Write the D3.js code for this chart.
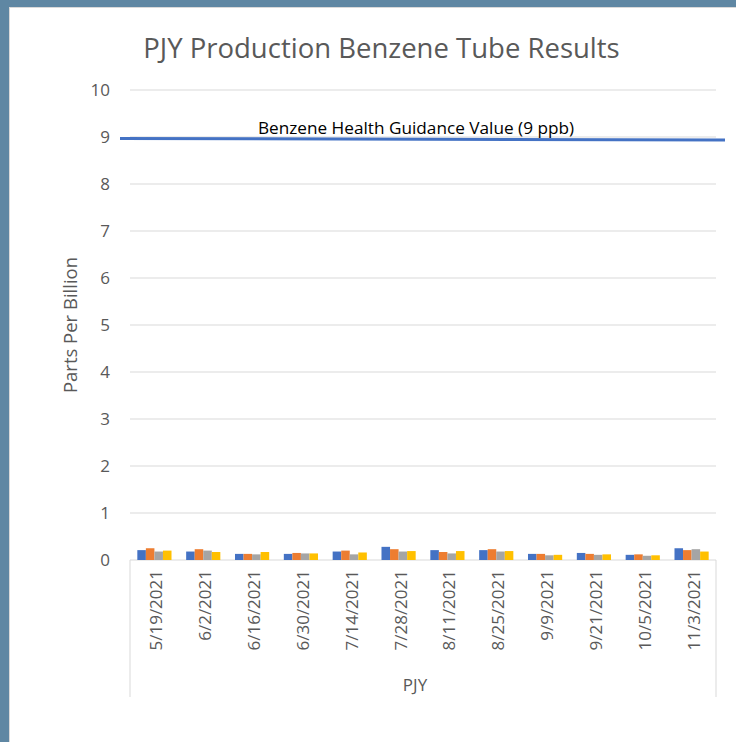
<!DOCTYPE html>
<html>
<head>
<meta charset="utf-8">
<script src="https://cdn.jsdelivr.net/npm/d3@7"></script>
<style>
  body { margin: 0; background: #5f87a3; }
  svg { display: block; }
</style>
</head>
<body>
<script>
var dates = ["5/19/2021", "6/2/2021", "6/16/2021", "6/30/2021", "7/14/2021", "7/28/2021",
             "8/11/2021", "8/25/2021", "9/9/2021", "9/21/2021", "10/5/2021", "11/3/2021"];
var tube1 = [0.21, 0.18, 0.13, 0.13, 0.18, 0.28, 0.21, 0.21, 0.13, 0.15, 0.11, 0.25];
var tube2 = [0.25, 0.23, 0.13, 0.15, 0.20, 0.23, 0.17, 0.23, 0.13, 0.13, 0.12, 0.21];
var tube3 = [0.18, 0.20, 0.12, 0.14, 0.12, 0.18, 0.14, 0.18, 0.10, 0.11, 0.09, 0.23];
var tube4 = [0.20, 0.17, 0.17, 0.14, 0.16, 0.19, 0.19, 0.19, 0.11, 0.12, 0.10, 0.18];
var seriesNames = ["Tube 1", "Tube 2", "Tube 3", "Tube 4"];
var colors = ["#4472c4", "#ed7d31", "#a5a5a5", "#ffc000"];
var yTicks = [0, 1, 2, 3, 4, 5, 6, 7, 8, 9, 10];
var guidanceValue = 9;
var guidanceLabel = "Benzene Health Guidance Value (9 ppb)";

var series = [tube1, tube2, tube3, tube4];
var font = "'Open Sans', sans-serif";

var W = 736, H = 742;
var margin = {top: 90, right: 20, bottom: 182, left: 130},
    width = 716 - margin.left,
    height = 560 - margin.top;

var svg = d3.select("body").append("svg")
    .attr("width", W)
    .attr("height", H);

// white chart area inside the frame
svg.append("rect")
    .attr("x", 9).attr("y", 7)
    .attr("width", W - 9).attr("height", H - 7)
    .attr("fill", "#d9d9d9");
svg.append("rect")
    .attr("x", 10).attr("y", 8)
    .attr("width", W - 10).attr("height", H - 8)
    .attr("fill", "#ffffff");

var g = svg.append("g")
    .attr("transform", "translate(" + margin.left + "," + margin.top + ")");

var x = d3.scaleBand().domain(dates).range([0, width]).paddingInner(0.3).paddingOuter(0.15);
var x1 = d3.scaleBand().domain(seriesNames).range([0, x.bandwidth()]);
var y = d3.scaleLinear().domain([0, 10]).range([height, 0]);

// gridlines
g.append("g")
    .selectAll("line")
    .data(yTicks)
    .join("line")
    .attr("x1", 0).attr("x2", width)
    .attr("y1", function(d) { return y(d); })
    .attr("y2", function(d) { return y(d); })
    .attr("stroke", "#d9d9d9")
    .attr("stroke-width", 1);

// y tick labels
g.append("g")
    .selectAll("text")
    .data(yTicks)
    .join("text")
    .attr("x", -20)
    .attr("y", function(d) { return y(d); })
    .attr("dy", "0.35em")
    .attr("text-anchor", "end")
    .attr("font-family", font)
    .attr("font-size", 17)
    .attr("fill", "#595959")
    .text(function(d) { return d; });

// bars
var groups = g.append("g")
    .selectAll("g")
    .data(dates)
    .join("g")
    .attr("transform", function(d) { return "translate(" + x(d) + ",0)"; });

groups.selectAll("rect")
    .data(function(d, i) { return series.map(function(s, k) { return {k: k, v: s[i]}; }); })
    .join("rect")
    .attr("x", function(d) { return x1(seriesNames[d.k]); })
    .attr("width", x1.bandwidth())
    .attr("y", function(d) { return y(d.v); })
    .attr("height", function(d) { return y(0) - y(d.v); })
    .attr("fill", function(d) { return colors[d.k]; });

// category box lines
g.append("line")
    .attr("x1", 0).attr("x2", 0)
    .attr("y1", height).attr("y2", height + 137)
    .attr("stroke", "#d9d9d9");
g.append("line")
    .attr("x1", width).attr("x2", width)
    .attr("y1", height).attr("y2", height + 137)
    .attr("stroke", "#d9d9d9");

// x labels
g.append("g")
    .selectAll("text")
    .data(dates)
    .join("text")
    .attr("transform", function(d) {
        return "translate(" + (x(d) + x.bandwidth() / 2 + 2) + "," + (height + 10) + ") rotate(-90)";
    })
    .attr("dy", "0.35em")
    .attr("text-anchor", "end")
    .attr("font-family", font)
    .attr("font-size", 17)
    .attr("fill", "#595959")
    .text(function(d) { return d; });

g.append("text")
    .attr("x", width / 2 - 8)
    .attr("y", height + 131)
    .attr("text-anchor", "middle")
    .attr("font-family", font)
    .attr("font-size", 17)
    .attr("fill", "#595959")
    .text("PJY");

// guidance line
g.append("line")
    .attr("x1", -10).attr("x2", width + 9)
    .attr("y1", y(guidanceValue) + 1.5)
    .attr("y2", y(guidanceValue) + 3)
    .attr("stroke", "#4472c4")
    .attr("stroke-width", 3);

g.append("text")
    .attr("x", 286)
    .attr("y", y(guidanceValue) - 3)
    .attr("text-anchor", "middle")
    .attr("font-family", font)
    .attr("font-size", 17.2)
    .attr("fill", "#000000")
    .text(guidanceLabel);

// title
svg.append("text")
    .attr("x", 381.5)
    .attr("y", 58)
    .attr("text-anchor", "middle")
    .attr("font-family", font)
    .attr("font-size", 27.5)
    .attr("fill", "#595959")
    .text("PJY Production Benzene Tube Results");

// y axis title
svg.append("text")
    .attr("transform", "translate(77,325) rotate(-90)")
    .attr("text-anchor", "middle")
    .attr("font-family", font)
    .attr("font-size", 18.5)
    .attr("fill", "#595959")
    .text("Parts Per Billion");
</script>
</body>
</html>
